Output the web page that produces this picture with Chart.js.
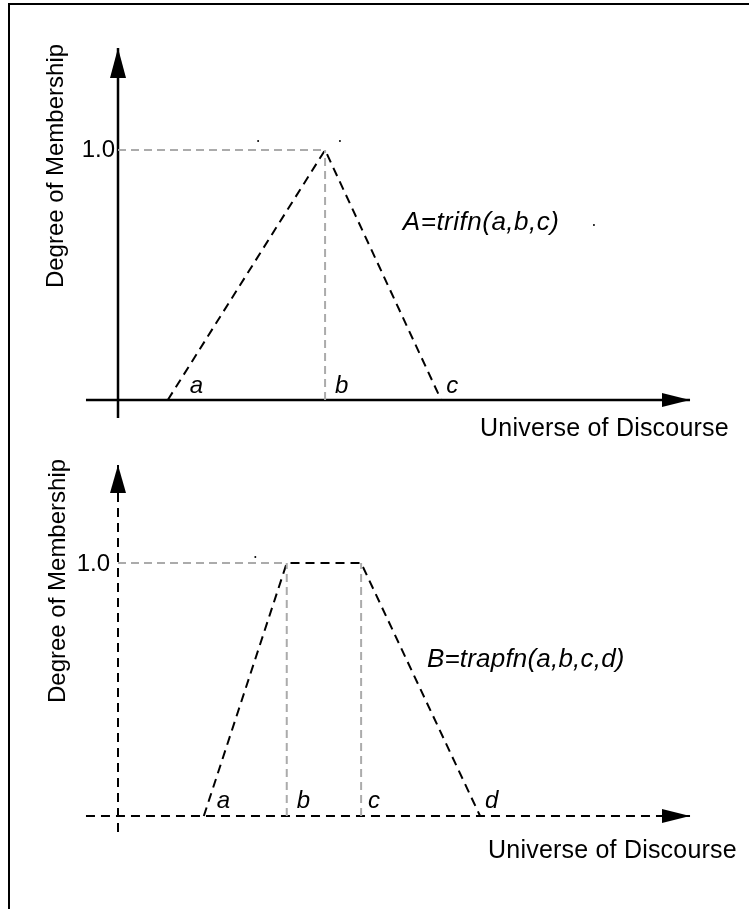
<!DOCTYPE html>
<html>
<head>
<meta charset="utf-8">
<script src="https://cdn.jsdelivr.net/npm/chart.js@4/dist/chart.umd.min.js"></script>
<style>
  html, body { margin: 0; padding: 0; background: #fff; overflow: hidden; }
  #wrap { position: relative; width: 749px; height: 909px; overflow: hidden; }
  #frame { position: absolute; left: 8px; top: 3px; width: 900px; height: 1000px;
           border-top: 2px solid #000; border-left: 2px solid #000; }
  canvas { position: absolute; left: 0; }
  #c1 { top: 0; }
  #c2 { top: 440px; }
</style>
</head>
<body>
<div id="wrap">
  <div id="frame"></div>
  <canvas id="c1" width="749" height="440"></canvas>
  <canvas id="c2" width="749" height="469"></canvas>
</div>
<script>
// ---------------- DATA ----------------
// Triangular membership function A = trifn(a,b,c)
const triParams = [0.87, 3.62, 5.65];          // a, b, c
const triMembership = [0, 1, 0];
const triLabels = ['a', 'b', 'c'];
const triTitle = 'A=trifn(a,b,c)';

// Trapezoidal membership function B = trapfn(a,b,c,d)
const trapParams = [1.50, 2.95, 4.25, 6.33];   // a, b, c, d
const trapMembership = [0, 1, 1, 0];
const trapLabels = ['a', 'b', 'c', 'd'];
const trapTitle = 'B=trapfn(a,b,c,d)';

// Axes
const yTickLabel = '1.0';
const yTickValue = 1.0;
const xAxisTitle = 'Universe of Discourse';
const yAxisTitle = 'Degree of Membership';
const xAxisExtentTop = [-0.56, 10];
const yAxisExtentTop = [-0.072, 1.408];
const xAxisExtentBottom = [-0.56, 10];
const yAxisExtentBottom = [-0.063, 1.387];

// Stray dot marks in the original drawing
const strayTop = [[2.45, 1.036], [3.88, 1.036], [8.32, 0.70]];
const strayBottom = [[2.40, 1.024]];

// ---------------- HELPERS ----------------
const FONT = '"Liberation Sans", Arial, Helvetica, sans-serif';
const BLACK_DASH = [9, 6];
const GRAY_DASH = [8, 5];
const GRAY = '#ababab';

const toPts = (xs, ys) => xs.map((v, i) => ({ x: v, y: ys[i] }));

const annotPlugin = {
  id: 'annot',
  afterDatasetsDraw(chart, args, opts) {
    const { ctx } = chart;
    const xs = chart.scales.x, ys = chart.scales.y;
    // arrow heads
    chart.data.datasets.forEach((ds, i) => {
      if (!ds.arrowHead) return;
      const pts = chart.getDatasetMeta(i).data;
      const p = pts[pts.length - 1], q = pts[pts.length - 2];
      const ang = Math.atan2(p.y - q.y, p.x - q.x);
      const L = ds.arrowHead.length, W = ds.arrowHead.half;
      ctx.save();
      ctx.translate(p.x, p.y);
      ctx.rotate(ang);
      ctx.beginPath();
      ctx.moveTo(0, 0);
      ctx.lineTo(-L, -W);
      ctx.lineTo(-L, W);
      ctx.closePath();
      ctx.fillStyle = '#000';
      ctx.fill();
      ctx.restore();
    });
    // texts
    (opts.texts || []).forEach(t => {
      ctx.save();
      ctx.font = t.font;
      ctx.fillStyle = '#000';
      ctx.textAlign = t.align || 'left';
      ctx.textBaseline = 'alphabetic';
      if ('letterSpacing' in ctx) ctx.letterSpacing = (t.ls || 0) + 'px';
      const px = xs.getPixelForValue(t.x) + (t.dx || 0);
      const py = ys.getPixelForValue(t.y) + (t.dy || 0);
      ctx.translate(px, py);
      if (t.rot) ctx.rotate(t.rot);
      ctx.fillText(t.text, 0, 0);
      ctx.restore();
    });
  }
};

function line(data, opts) {
  return Object.assign({
    data, showLine: true, pointRadius: 0, borderColor: '#000',
    borderWidth: 2, fill: false, tension: 0
  }, opts);
}

function makeChart(id, cfg) {
  return new Chart(document.getElementById(id), {
    type: 'scatter',
    data: { datasets: cfg.datasets },
    options: {
      responsive: false,
      devicePixelRatio: 1,
      animation: false,
      events: [],
      layout: { padding: 0, autoPadding: false },
      scales: {
        x: { type: 'linear', display: false, min: cfg.xMin, max: cfg.xMax },
        y: { type: 'linear', display: false, min: cfg.yMin, max: cfg.yMax }
      },
      plugins: {
        legend: { display: false },
        tooltip: { enabled: false },
        annot: { texts: cfg.texts }
      }
    },
    plugins: [annotPlugin]
  });
}

const X_MIN = -2.063, X_MAX = 11.031;

// ---------------- TOP: triangle ----------------
const triB = triParams[1];
const topTexts = [
  { text: yTickLabel, x: 0, y: yTickValue, dx: -3, dy: 7, align: 'right', font: '24px ' + FONT },
  { text: triTitle, x: 4.98, y: 0.68, ls: 0.5, font: 'italic 26px ' + FONT },
  { text: xAxisTitle, x: 6.33, y: -0.144, ls: 0.2, font: '25px ' + FONT },
  { text: yAxisTitle, x: -0.96, y: 0.936, align: 'center', rot: -Math.PI / 2, font: '24px ' + FONT }
];
const triOffsets = [22, 10, 5];
triLabels.forEach((l, i) => topTexts.push({ text: l, x: triParams[i], y: 0, dx: triOffsets[i], dy: -7, font: 'italic 24px ' + FONT }));

makeChart('c1', {
  xMin: X_MIN, xMax: X_MAX, yMin: -0.16, yMax: 1.6,
  texts: topTexts,
  datasets: [
    line([{ x: 0, y: yTickValue }, { x: triB, y: yTickValue }], { borderColor: GRAY, borderDash: GRAY_DASH }),
    line([{ x: triB, y: 0 }, { x: triB, y: yTickValue }], { borderColor: GRAY, borderDash: GRAY_DASH }),
    line([{ x: xAxisExtentTop[0], y: 0 }, { x: xAxisExtentTop[1], y: 0 }], { borderWidth: 2.5, arrowHead: { length: 28, half: 7 } }),
    line([{ x: 0, y: yAxisExtentTop[0] }, { x: 0, y: yAxisExtentTop[1] }], { borderWidth: 2.5, arrowHead: { length: 30, half: 8 } }),
    line(toPts(triParams, triMembership), { borderDash: BLACK_DASH }),
    { data: strayTop.map(p => ({ x: p[0], y: p[1] })), pointRadius: 1, pointBorderWidth: 0, backgroundColor: '#000', showLine: false }
  ]
});

// ---------------- BOTTOM: trapezoid ----------------
const trapB = trapParams[1], trapC = trapParams[2];
const botTexts = [
  { text: yTickLabel, x: 0, y: yTickValue, dx: -8, dy: 8, align: 'right', font: '24px ' + FONT },
  { text: trapTitle, x: 5.40, y: 0.589, ls: 0.2, font: 'italic 26px ' + FONT },
  { text: xAxisTitle, x: 6.47, y: -0.166, ls: 0.2, font: '25px ' + FONT },
  { text: yAxisTitle, x: -0.93, y: 0.929, align: 'center', rot: -Math.PI / 2, font: '24px ' + FONT }
];
const trapOffsets = [13, 10, 7, 5];
trapLabels.forEach((l, i) => botTexts.push({ text: l, x: trapParams[i], y: 0, dx: trapOffsets[i], dy: -8, font: 'italic 24px ' + FONT }));

makeChart('c2', {
  xMin: X_MIN, xMax: X_MAX, yMin: -0.3676, yMax: 1.4862,
  texts: botTexts,
  datasets: [
    line([{ x: 0, y: yTickValue }, { x: trapB, y: yTickValue }], { borderColor: GRAY, borderDash: GRAY_DASH }),
    line([{ x: trapB, y: 0 }, { x: trapB, y: yTickValue }], { borderColor: GRAY, borderDash: GRAY_DASH }),
    line([{ x: trapC, y: 0 }, { x: trapC, y: yTickValue }], { borderColor: GRAY, borderDash: GRAY_DASH }),
    line([{ x: xAxisExtentBottom[0], y: 0 }, { x: xAxisExtentBottom[1], y: 0 }], { borderDash: BLACK_DASH, arrowHead: { length: 28, half: 7 } }),
    line([{ x: 0, y: yAxisExtentBottom[0] }, { x: 0, y: yAxisExtentBottom[1] }], { borderDash: BLACK_DASH, arrowHead: { length: 28, half: 8 } }),
    line(toPts(trapParams, trapMembership), { borderDash: BLACK_DASH }),
    { data: strayBottom.map(p => ({ x: p[0], y: p[1] })), pointRadius: 1, pointBorderWidth: 0, backgroundColor: '#000', showLine: false }
  ]
});
</script>
</body>
</html>
